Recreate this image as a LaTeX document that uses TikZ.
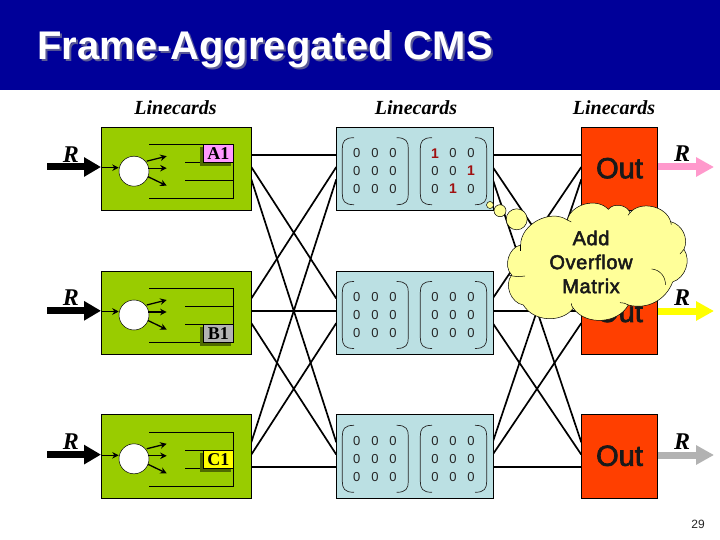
\documentclass[tikz,border=0pt]{standalone}
\usepackage{fontspec}
\setmainfont{Liberation Sans}
\newfontfamily\tms{Liberation Serif}
\usetikzlibrary{arrows.meta,calc}
\definecolor{hdr}{HTML}{000099}
\definecolor{hshadow}{HTML}{5A5A96}
\definecolor{cardg}{HTML}{99CC00}
\definecolor{midb}{HTML}{BBE0E3}
\definecolor{outr}{HTML}{FF3F00}
\definecolor{cloudy}{HTML}{FFFF99}
\definecolor{shad}{HTML}{4F6A00}
\definecolor{redd}{HTML}{A01010}
\tikzset{
  box/.style={draw=black,line width=0.8pt,inner sep=0pt,anchor=north west},
  card/.style={box,fill=cardg,minimum width=150.3pt,minimum height=83.8pt},
  midcard/.style={box,fill=midb,minimum width=156.4pt,minimum height=83.8pt},
  outcard/.style={box,fill=outr,minimum width=76pt,minimum height=83.8pt},
  link/.style={line width=1.7pt,black},
  flow/.style={line width=7pt,-{Triangle[length=17pt,width=18.5pt]}},
  tinyarrow/.style={line width=1.3pt,-{Stealth[length=6.5pt,width=6.5pt]}},
  wire/.style={line width=1pt},
  paren/.style={line width=0.7pt,black!85},
  headtext/.style={font=\tms\bfseries\itshape\fontsize{20}{24}\selectfont,inner sep=0pt},
  rate/.style={font=\tms\bfseries\itshape\fontsize{24}{28}\selectfont,inner sep=0pt},
  tagbox/.style={draw=black,line width=0.4pt,inner sep=0pt,minimum width=30pt,minimum height=18pt,font=\tms\bfseries\fontsize{18}{20}\selectfont},
  dig/.style={font=\fontsize{13}{15}\selectfont,inner sep=0pt,text=black!85},
  onedig/.style={font=\bfseries\fontsize{14}{15}\selectfont,inner sep=0pt,text=redd},
  cl/.style={draw=black,line width=0.5pt,fill=cloudy},
}
\begin{document}
\begin{tikzpicture}[x=1pt,y=-1pt]
\useasboundingbox (0,0) rectangle (720,540);
\fill[white] (0,0) rectangle (720,540);
\fill[hdr] (0,0) rectangle (720,90);
\node[font=\bfseries\fontsize{40}{44}\selectfont,text=hshadow,inner sep=0pt,anchor=base west] (titleshadow) at (39,62) {Frame-Aggregated CMS};
\node[font=\bfseries\fontsize{40}{44}\selectfont,text=white,inner sep=0pt,anchor=base west] (title) at (37,60) {Frame-Aggregated CMS};
\node[headtext] (h1) at (175.5,108) {Linecards};
\node[headtext] (h2) at (416,108) {Linecards};
\node[headtext] (h3) at (614,108) {Linecards};
% coordinates of connector ends
\foreach \n/\t in {A/126.7,B/270.5,C/414.3}{
  \foreach \k/\d in {1/28,2/40.3,3/52.6}{
    \coordinate (gr\n\k) at (251.3,\t+\d);
    \coordinate (bl\n\k) at (336.3,\t+\d);
    \coordinate (br\n\k) at (492.7,\t+\d);
    \coordinate (re\n\k) at (581.3,\t+\d);
  }
}
% links
\foreach \p/\q in {gr/bl,br/re}{
  \draw[link] (\p A1) -- (\q A1);
  \draw[link] (\p A2) -- (\q B1);
  \draw[link] (\p A3) -- (\q C1);
  \draw[link] (\p B1) -- (\q A2);
  \draw[link] (\p B2) -- (\q B2);
  \draw[link] (\p B3) -- (\q C2);
  \draw[link] (\p C1) -- (\q A3);
  \draw[link] (\p C2) -- (\q B3);
  \draw[link] (\p C3) -- (\q C3);
}
\foreach \n/\t in {A/126.7,B/270.5,C/414.3}{
  \node[card] (card\n) at (101,\t) {};
  \node[midcard] (mid\n) at (336.3,\t) {};
  \node[outcard] (out\n) at (581.3,\t) {};
  \node[font=\fontsize{29}{30}\selectfont\addfontfeature{FakeBold=2.5},inner sep=0pt,text=black!90] (outt\n) at (619.5,\t+41.5) {Out};
  \node[rate] (r\n) at (71,\t+27.5) {R};
  \coordinate (inS\n) at (47,\t+40.3);
  \draw[flow] (inS\n) -- (card\n.west |- inS\n);
  \node[circle,draw=black,line width=0.5pt,fill=white,minimum size=30pt,inner sep=0pt] (hub\n) at (134,\t+44.5) {};
  \coordinate (cS\n) at (101,\t+41);
  \coordinate (f1\n) at (166.7,\t+29.5);
  \coordinate (f2\n) at (166.7,\t+41.5);
  \coordinate (f3\n) at (166.7,\t+59);
  \draw[tinyarrow] (cS\n) -- (hub\n.west |- cS\n);
  \draw[tinyarrow] (146.7,\t+34.5) -- (f1\n);
  \draw[tinyarrow] (148,\t+41.5) -- (f2\n);
  \draw[tinyarrow] (148,\t+50) -- (f3\n);
  \draw[wire] (149,\t+17.7) -- (233.3,\t+17.7) -- (233.3,\t+71.7) -- (149,\t+71.7);
  \draw[wire] (185,\t+35.7) -- (233.3,\t+35.7);
  \draw[wire] (185,\t+53.7) -- (233.3,\t+53.7);
  % parentheses
  \foreach \a/\b in {342.3/354,420.3/432}{
    \draw[paren] (\b,\t+11) .. controls (\a+2,\t+11) and (\a,\t+15) .. (\a,\t+22) -- (\a,\t+67) .. controls (\a,\t+74) and (\a+2,\t+78) .. (\b,\t+78);
  }
  \foreach \a/\b in {408.3/396.7,486.7/475}{
    \draw[paren] (\b,\t+11) .. controls (\a-2,\t+11) and (\a,\t+15) .. (\a,\t+22) -- (\a,\t+67) .. controls (\a,\t+74) and (\a-2,\t+78) .. (\b,\t+78);
  }
  \foreach \x/\cc in {356.7/a,375/b,393/c}{
    \foreach \y/\rr in {26.6/p,44.3/q,62.3/r}{
      \node[dig] (d\n\cc\rr) at (\x,\t+\y) {0};
    }
  }
}
% second matrices
\foreach \n/\t in {B/270.5,C/414.3}{
  \foreach \x/\cc in {435/d,453/e,471/f}{
    \foreach \y/\rr in {26.6/p,44.3/q,62.3/r}{
      \node[dig] (d\n\cc\rr) at (\x,\t+\y) {0};
    }
  }
}
\node[onedig] (m11) at (435,153.3) {1};
\node[dig] (m12) at (453,153.3) {0};
\node[dig] (m13) at (471,153.3) {0};
\node[dig] (m21) at (435,171) {0};
\node[dig] (m22) at (453,171) {0};
\node[onedig] (m23) at (471,171) {1};
\node[dig] (m31) at (435,189) {0};
\node[onedig] (m32) at (453,189) {1};
\node[dig] (m33) at (471,189) {0};
% tags
\foreach \n/\t/\lab/\hex in {A/144.3/A1/FF99FF,B/324.3/B1/B2B2B2,C/450.3/C1/FFFF00}{
  \fill[shad] (200,\t+3) rectangle (230.7,\t+21.5);
  \definecolor{tagc}{HTML}{\hex}
  \node[tagbox,fill=tagc] (tag\n) at (218.3,\t+9) {\lab};
}
% output arrows
\foreach \n/\hex/\y in {A/FF99CC/167,B/FFFF00/311,C/B2B2B2/455}{
  \definecolor{flowc}{HTML}{\hex}
  \coordinate (end\n) at (714,\y);
  \draw[line width=7pt,draw=flowc,-{Triangle[length=18pt,width=18.5pt,fill=flowc]}] (out\n.east |- end\n) -- (end\n);
  \node[rate] (rr\n) at (682,\y-13) {R};
}
% thought bubbles
\node[circle,cl,minimum size=7pt,inner sep=0pt] (b1) at (490,205) {};
\node[circle,cl,minimum size=12pt,inner sep=0pt] (b2) at (500,210.7) {};
\node[circle,cl,minimum size=21pt,inner sep=0pt] (b3) at (516.7,219.3) {};
% cloud
\begin{scope}[shift={(480,190)},x=0.3333pt,y=-0.3333pt]
\draw[cl] (122,165) to[bend left=62] (262,90)
  to[bend left=62] (385,58) to[bend left=62] (450,68) to[bend left=62] (572,95)
  to[bend left=50] (612,178) to[bend left=52] (578,276) to[bend left=42] (445,345)
  to[bend left=58] (280,355) to[bend left=55] (130,345) to[bend left=60] (95,255)
  to[bend left=62] (122,165) -- cycle;
\draw[line width=0.5pt] (515,237) to[bend left=45] (556,285);
\draw[line width=0.5pt] (85,255) to[bend right=12] (135,258);
\draw[line width=0.5pt] (280,355) to[bend left=20] (274,340);
\draw[line width=0.5pt] (445,345) to[bend right=15] (420,338);
\draw[line width=0.5pt] (122,165) to[bend right=10] (122,182);
\draw[line width=0.5pt] (612,178) to[bend left=15] (600,192);
\draw[line width=0.5pt] (572,95) -- (574,104);
\draw[line width=0.5pt] (450,68) -- (444,76);
\draw[line width=0.5pt] (262,90) -- (274,96);
\end{scope}
\node[font=\fontsize{20}{24}\selectfont\addfontfeature{FakeBold=2.5,LetterSpace=3},align=center,inner sep=0pt,text=black!90] (note) at (591,262) {Add\\Overflow\\Matrix};
\node[font=\fontsize{12}{14}\selectfont,inner sep=0pt,text=black!85] (page) at (698,524) {29};
\end{tikzpicture}
\end{document}
